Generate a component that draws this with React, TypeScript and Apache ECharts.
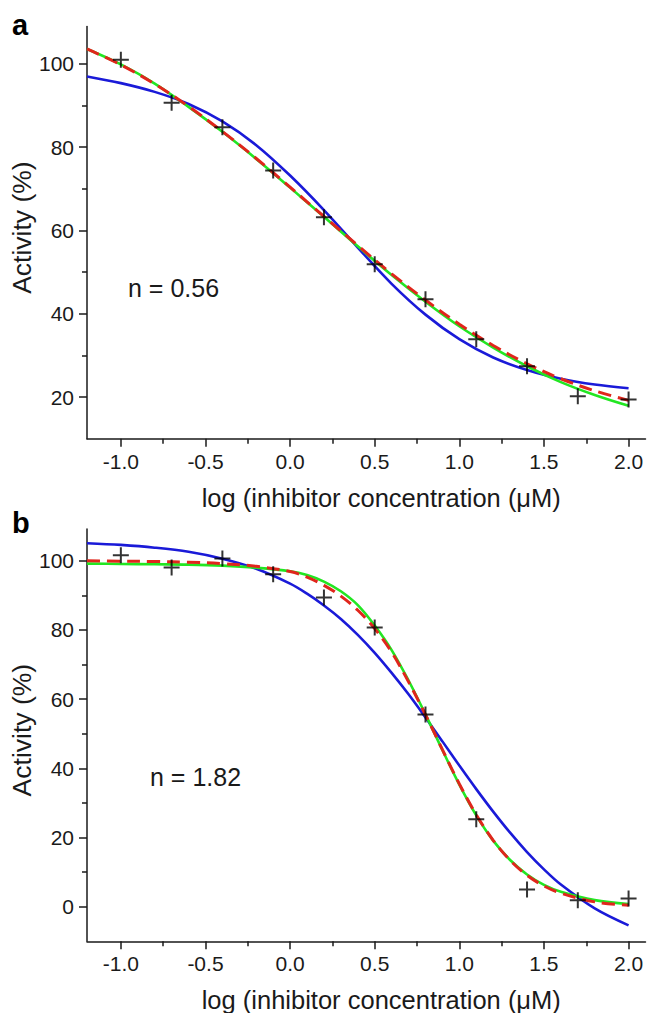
import React, { useEffect, useRef } from "react";
import * as echarts from "echarts";

// ---------- data ----------
const DATA_X = [-1.0, -0.7, -0.4, -0.1, 0.2, 0.5, 0.8, 1.1, 1.4, 1.7, 2.0];
const ACT_A = [101.0, 90.7, 84.8, 74.4, 63.2, 51.9, 43.5, 33.9, 27.4, 20.2, 19.4];
const ACT_B = [101.6, 98.1, 100.7, 96.1, 89.4, 80.7, 55.6, 25.3, 5.0, 1.9, 2.4];

const CURVE_X_A = [-1.2, -1.0, -0.8, -0.6, -0.4, -0.2, 0.0, 0.2, 0.4, 0.6, 0.8, 1.0, 1.2, 1.4, 1.6, 1.8, 2.0];
const BLUE_A = [97.0, 95.4, 93.3, 90.4, 86.2, 80.5, 73.2, 64.9, 55.9, 47.2, 39.8, 33.9, 29.5, 26.5, 24.4, 23.0, 22.1];
const GREEN_A = [103.6, 99.9, 95.3, 89.7, 83.7, 77.2, 70.3, 63.3, 56.2, 49.3, 42.9, 37.0, 31.9, 27.4, 23.6, 20.5, 17.9];
const RED_A = [103.6, 99.8, 95.2, 89.8, 83.8, 77.3, 70.4, 63.4, 56.4, 49.6, 43.3, 37.5, 32.4, 28.0, 24.4, 21.5, 19.2];

const CURVE_X_B = [-1.2, -1.0, -0.8, -0.6, -0.4, -0.2, 0.0, 0.1, 0.2, 0.3, 0.4, 0.5, 0.6, 0.7, 0.8, 0.9, 1.0, 1.1, 1.2, 1.3, 1.4, 1.5, 1.6, 1.8, 2.0];
const BLUE_B = [105.1, 104.6, 103.8, 102.6, 100.6, 97.7, 93.4, 90.5, 87.1, 83.2, 78.6, 73.4, 67.6, 61.4, 54.7, 47.8, 40.8, 34.0, 27.5, 21.4, 15.8, 10.8, 6.4, -0.5, -5.4];
const GREEN_B = [99.2, 99.1, 99.0, 98.9, 98.6, 98.0, 97.0, 95.9, 94.0, 91.2, 87.2, 81.3, 74.2, 65.4, 55.6, 45.3, 35.3, 26.4, 19.1, 13.5, 9.3, 6.3, 4.3, 1.9, 0.8];
const RED_B = [100.0, 99.9, 99.8, 99.6, 99.2, 98.4, 96.9, 95.3, 92.9, 89.8, 85.7, 80.4, 73.6, 65.0, 55.5, 45.4, 35.5, 26.6, 19.2, 13.4, 9.1, 6.0, 3.9, 1.4, 0.4];

const X_MAJOR = [-1.0, -0.5, 0.0, 0.5, 1.0, 1.5, 2.0];
const X_MINOR = [-0.75, -0.25, 0.25, 0.75, 1.25, 1.75];
const Y_MAJOR_A = [20, 40, 60, 80, 100];
const Y_MINOR_A = [30, 50, 70, 90];
const Y_MAJOR_B = [0, 20, 40, 60, 80, 100];
const Y_MINOR_B = [10, 30, 50, 70, 90];

const X_TITLE = "log (inhibitor concentration (\u03bcM)";
const Y_TITLE = "Activity (%)";
const N_LABELS = ["n = 0.56", "n = 1.82"];
const PANEL_LABELS = ["a", "b"];

// ---------- style ----------
const FONT = '"Liberation Sans", Arial, sans-serif';
const INK = "#1a1a1a";
const BLUE = "#1a1ad8";
const GREEN = "#22e622";
const RED = "#e0261c";
const PLUS = "path://M7,0h2v7h7v2h-7v7h-2v-7h-7v-2h7z";

const pairs = (xs: number[], ys: number[]) => xs.map((x, i) => [x, ys[i]]);

function mainX(grid: number) {
  return {
    gridIndex: grid,
    type: "value",
    min: -1.2,
    max: 2.1,
    axisLine: { show: true, onZero: false, lineStyle: { color: INK, width: 1.5 } },
    axisTick: { show: true, customValues: X_MAJOR, length: 8, lineStyle: { color: INK, width: 1.5 } },
    axisLabel: {
      customValues: X_MAJOR,
      formatter: (v: number) => v.toFixed(1),
      fontSize: 21,
      color: INK,
      fontFamily: FONT,
      margin: 12,
    },
    splitLine: { show: false },
    name: X_TITLE,
    nameLocation: "middle",
    nameGap: 46,
    nameMoveOverlap: false,
    nameTextStyle: { fontSize: 25.5, color: INK, fontFamily: FONT, padding: [0, 0, 0, 30] },
  };
}
function minorX(grid: number) {
  return {
    gridIndex: grid,
    type: "value",
    position: "bottom",
    min: -1.2,
    max: 2.1,
    axisLine: { show: false, onZero: false },
    axisTick: { show: true, customValues: X_MINOR, length: 5, lineStyle: { color: INK, width: 1.5 } },
    axisLabel: { show: false },
    splitLine: { show: false },
  };
}
function mainY(grid: number, min: number, max: number, major: number[]) {
  return {
    gridIndex: grid,
    type: "value",
    position: "left",
    min,
    max,
    axisLine: { show: true, onZero: false, lineStyle: { color: INK, width: 1.5 } },
    axisTick: { show: true, customValues: major, length: 8, lineStyle: { color: INK, width: 1.5 } },
    axisLabel: { customValues: major, fontSize: 21, color: INK, fontFamily: FONT, margin: 13 },
    splitLine: { show: false },
    name: Y_TITLE,
    nameLocation: "middle",
    nameGap: 52,
    nameMoveOverlap: false,
    nameTextStyle: { fontSize: 26.5, color: INK, fontFamily: FONT, padding: [0, 0, 0, 10] },
  };
}
function minorY(grid: number, min: number, max: number, minor: number[]) {
  return {
    gridIndex: grid,
    type: "value",
    position: "left",
    min,
    max,
    axisLine: { show: false, onZero: false },
    axisTick: { show: true, customValues: minor, length: 5, lineStyle: { color: INK, width: 1.5 } },
    axisLabel: { show: false },
    splitLine: { show: false },
  };
}

function curve(name: string, xi: number, xs: number[], ys: number[], color: string, dashed: boolean) {
  return {
    name,
    type: "line",
    xAxisIndex: xi,
    yAxisIndex: xi,
    data: pairs(xs, ys),
    showSymbol: false,
    smooth: 0.35,
    lineStyle: dashed
      ? { color, width: 3, type: [13, 7] }
      : { color, width: 2.6 },
    silent: true,
  };
}
function points(name: string, xi: number, ys: number[]) {
  return {
    name,
    type: "scatter",
    xAxisIndex: xi,
    yAxisIndex: xi,
    data: pairs(DATA_X, ys),
    symbol: PLUS,
    symbolSize: 16,
    itemStyle: { color: "#000" },
    z: 5,
  };
}

export default function App() {
  const ref = useRef<HTMLDivElement>(null);
  useEffect(() => {
    if (!ref.current) return;
    const chart = echarts.init(ref.current, undefined, { renderer: "svg" });
    chart.setOption({
      animation: false,
      backgroundColor: "#fff",
      grid: [
        { left: 87, top: 26.5, width: 558.5, height: 412.2, outerBoundsMode: "none", containLabel: false },
        { left: 87, top: 529, width: 558.5, height: 412.3, outerBoundsMode: "none", containLabel: false },
      ],
      xAxis: [mainX(0), minorX(0), mainX(1), minorX(1)],
      yAxis: [
        mainY(0, 10, 109, Y_MAJOR_A),
        minorY(0, 10, 109, Y_MINOR_A),
        mainY(1, -10, 109.2, Y_MAJOR_B),
        minorY(1, -10, 109.2, Y_MINOR_B),
      ],
      series: [
        curve("Hill n=1 (a)", 0, CURVE_X_A, BLUE_A, BLUE, false),
        curve("Hill fit (a)", 0, CURVE_X_A, GREEN_A, GREEN, false),
        curve("Free fit (a)", 0, CURVE_X_A, RED_A, RED, true),
        points("Data (a)", 0, ACT_A),
        curve("Hill n=1 (b)", 2, CURVE_X_B, BLUE_B, BLUE, false),
        curve("Hill fit (b)", 2, CURVE_X_B, GREEN_B, GREEN, false),
        curve("Free fit (b)", 2, CURVE_X_B, RED_B, RED, true),
        points("Data (b)", 2, ACT_B),
      ],
      graphic: [
        { type: "text", left: 12, top: 10, style: { text: PANEL_LABELS[0], font: `bold 29px ${FONT}`, fill: "#000" } },
        { type: "text", left: 12, top: 508, style: { text: PANEL_LABELS[1], font: `bold 29px ${FONT}`, fill: "#000" } },
        { type: "text", left: 128, top: 275, style: { text: N_LABELS[0], font: `25px ${FONT}`, fill: INK } },
        { type: "text", left: 150, top: 764, style: { text: N_LABELS[1], font: `25px ${FONT}`, fill: INK } },
      ],
    });
    return () => chart.dispose();
  }, []);
  return (
    <div
      ref={ref}
      style={{ position: "fixed", left: 0, top: 0, width: 648, height: 1013, background: "#fff" }}
    />
  );
}
